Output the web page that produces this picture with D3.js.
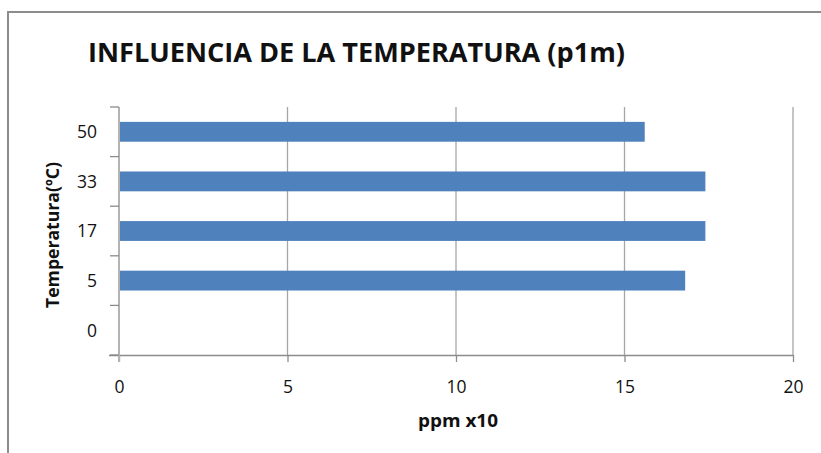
<!DOCTYPE html>
<html>
<head>
<meta charset="utf-8">
<script src="https://cdn.jsdelivr.net/npm/d3@7/dist/d3.min.js"></script>
<style>
  html, body { margin: 0; padding: 0; background: #fff; }
  svg { display: block; }
  text { font-family: "Open Sans", "Noto Sans", sans-serif; fill: #111; }
</style>
</head>
<body>
<svg id="chart" width="821" height="453"></svg>
<script>
// Temperature categories (bottom to top) and measured values in ppm x10
const temperatures = ["0", "5", "17", "33", "50"];
const ppmValues = [0, 16.8, 17.4, 17.4, 15.6];
const xTicks = [0, 5, 10, 15, 20];
const chartTitle = "INFLUENCIA DE LA TEMPERATURA (p1m)";
const xTitle = "ppm x10";
const yTitle = "Temperatura(ºC)";

const svg = d3.select("#chart");
const W = 821, H = 453;
const plot = { left: 119, right: 793, top: 107, bottom: 355 };

// outer chart frame (extends past the canvas on right and bottom)
svg.append("rect")
  .attr("x", 8).attr("y", 12)
  .attr("width", W + 20).attr("height", H + 20)
  .attr("fill", "none")
  .attr("stroke", "#8c8c8c")
  .attr("stroke-width", 2);

const x = d3.scaleLinear().domain([0, 20]).range([plot.left, plot.right]);
const y = d3.scaleBand()
  .domain(temperatures)
  .range([plot.bottom, plot.top])
  .paddingInner(0.6)
  .paddingOuter(0.3);

// vertical gridlines
svg.append("g")
  .selectAll("line")
  .data(xTicks.filter(d => d > 0))
  .join("line")
  .attr("x1", d => x(d)).attr("x2", d => x(d))
  .attr("y1", plot.top).attr("y2", plot.bottom)
  .attr("stroke", "#a6a6a6")
  .attr("stroke-width", 1.3);

// bars
svg.append("g")
  .selectAll("rect")
  .data(temperatures.map((t, i) => ({ t, v: ppmValues[i] })).filter(d => d.v > 0))
  .join("rect")
  .attr("x", x(0))
  .attr("y", d => y(d.t))
  .attr("width", d => x(d.v) - x(0))
  .attr("height", y.bandwidth())
  .attr("fill", "#4f81bd");

// x axis
const xAxis = svg.append("g")
  .attr("transform", `translate(0,${plot.bottom})`)
  .call(d3.axisBottom(x).tickValues(xTicks).tickSize(7).tickPadding(19).tickFormat(d3.format("d")));
xAxis.select(".domain").attr("stroke", "#8c8c8c").attr("stroke-width", 1.3)
  .attr("d", `M${plot.left - 10},0.5H${plot.right}`);
xAxis.selectAll(".tick line").attr("stroke", "#8c8c8c").attr("stroke-width", 1.3);
xAxis.selectAll(".tick text")
  .attr("font-family", "'Open Sans', sans-serif")
  .attr("font-size", 17.5)
  .attr("fill", "#1a1a1a");

// y axis: line, boundary ticks between categories, labels at band centers
const step = y.step();
const boundaries = d3.range(temperatures.length + 1).map(i => plot.bottom - i * step);
const yAxis = svg.append("g");
yAxis.append("line")
  .attr("x1", plot.left).attr("x2", plot.left)
  .attr("y1", plot.top).attr("y2", plot.bottom + 7)
  .attr("stroke", "#b3b3b3").attr("stroke-width", 2);
yAxis.selectAll("line.tk")
  .data(boundaries)
  .join("line").attr("class", "tk")
  .attr("x1", plot.left - 9).attr("x2", plot.left)
  .attr("y1", d => d).attr("y2", d => d)
  .attr("stroke", "#8c8c8c").attr("stroke-width", 1.3);
yAxis.selectAll("text")
  .data(temperatures)
  .join("text")
  .attr("x", 97)
  .attr("y", d => y(d) + y.bandwidth() / 2)
  .attr("dy", "0.36em")
  .attr("text-anchor", "end")
  .attr("font-size", 17.5)
  .attr("fill", "#1a1a1a")
  .text(d => d);

// titles
svg.append("text")
  .attr("x", 88).attr("y", 62)
  .attr("font-size", 26.5)
  .attr("font-weight", 700)
  .attr("textLength", 537)
  .attr("lengthAdjust", "spacingAndGlyphs")
  .text(chartTitle);

svg.append("text")
  .attr("x", 418).attr("y", 427)
  .attr("font-size", 18)
  .attr("font-weight", 700)
  .attr("textLength", 80)
  .attr("lengthAdjust", "spacingAndGlyphs")
  .text(xTitle);

svg.append("text")
  .attr("transform", "translate(59,308) rotate(-90)")
  .attr("font-size", 18)
  .attr("font-weight", 700)
  .attr("textLength", 146)
  .attr("lengthAdjust", "spacingAndGlyphs")
  .text(yTitle);
</script>
</body>
</html>
